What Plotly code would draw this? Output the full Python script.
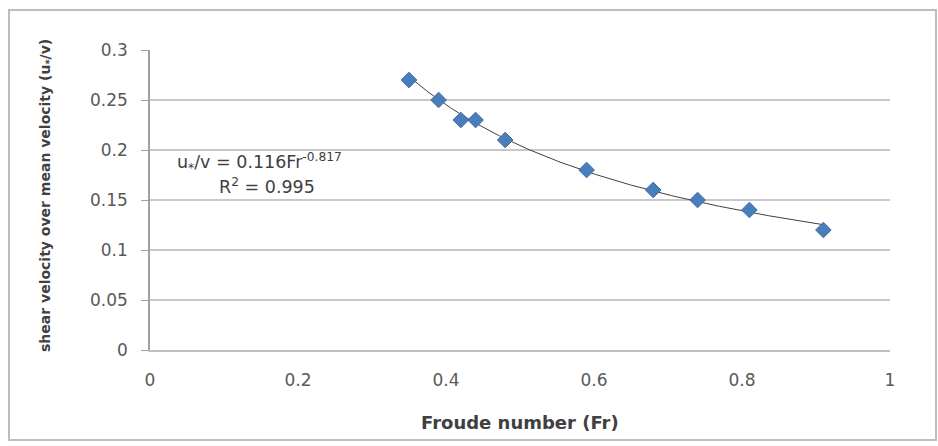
import numpy as np
import plotly.graph_objects as go

froude = [0.35, 0.39, 0.42, 0.44, 0.48, 0.59, 0.68, 0.74, 0.81, 0.91]
ratio = [0.27, 0.25, 0.23, 0.23, 0.21, 0.18, 0.16, 0.15, 0.14, 0.12]

# power-law trendline coefficients (as printed on chart)
fit_a = 0.116
fit_b = -0.817

x_ticks = [0, 0.2, 0.4, 0.6, 0.8, 1]
x_tick_text = ["0", "0.2", "0.4", "0.6", "0.8", "1"]
y_ticks = [0, 0.05, 0.1, 0.15, 0.2, 0.25, 0.3]
y_tick_text = ["0", "0.05", "0.1", "0.15", "0.2", "0.25", "0.3"]

fx = np.linspace(min(froude), max(froude), 200)
fy = fit_a * fx ** fit_b

fig = go.Figure()
fig.add_trace(go.Scatter(x=fx, y=fy, mode="lines",
                         line=dict(color="#404040", width=1), hoverinfo="skip"))
fig.add_trace(go.Scatter(x=froude, y=ratio, mode="markers",
                         marker=dict(symbol="diamond", size=12, color="#4a7ebb",
                                     line=dict(color="#3d6aa3", width=1))))

font_family = "DejaVu Sans, sans-serif"
txt = "#595959"
dark = "#404040"

fig.update_layout(
    width=938, height=446,
    margin=dict(l=150, r=48, t=50, b=96),
    paper_bgcolor="white", plot_bgcolor="white",
    showlegend=False,
    font=dict(family=font_family, size=16, color=txt),
    xaxis=dict(range=[0, 1], tickvals=x_ticks, ticktext=x_tick_text,
               showgrid=False, zeroline=False, showline=True,
               linecolor="#c0c0c0", linewidth=1.5,
               ticks="", ticklabelstandoff=14,
               tickfont=dict(size=17, color=txt)),
    yaxis=dict(range=[0, 0.3], tickvals=y_ticks, ticktext=y_tick_text,
               showgrid=True, gridcolor="#c8c8c8", gridwidth=1.5,
               zeroline=False, showline=True, linecolor="#a0a0a0", linewidth=1.5,
               ticks="outside", ticklen=7, tickcolor="#a0a0a0",
               ticklabelstandoff=10,
               tickfont=dict(size=17, color=txt)),
    annotations=[
        dict(xref="x", yref="y", x=0.0335, y=0.188, xanchor="left", yanchor="middle",
             text="u<sub>*</sub>/v = 0.116Fr<sup>-0.817</sup>", showarrow=False,
             font=dict(size=17.5, color=dark)),
        dict(xref="x", yref="y", x=0.091, y=0.164, xanchor="left", yanchor="middle",
             text="R<sup>2</sup> = 0.995", showarrow=False,
             font=dict(size=17.5, color=dark)),
        dict(xref="paper", yref="paper", x=0.5, y=-72 / 300, xanchor="center",
             yanchor="middle", text="<b>Froude number (Fr)</b>", showarrow=False,
             font=dict(size=18, color=dark)),
        dict(xref="paper", yref="paper", x=-104 / 740, y=154 / 300, xanchor="center",
             yanchor="middle", textangle=-90,
             text="<b>shear velocity over mean velocity (u<sub>*</sub>/v)</b>",
             showarrow=False, font=dict(size=14, color=dark)),
    ],
    shapes=[
        dict(type="rect", xref="paper", yref="paper",
             x0=-141 / 740, x1=786 / 740, y0=-90 / 300, y1=340 / 300,
             line=dict(color="#bdbdbd", width=2), fillcolor="rgba(0,0,0,0)", layer="below"),
    ],
)

fig.write_html("out.html")
